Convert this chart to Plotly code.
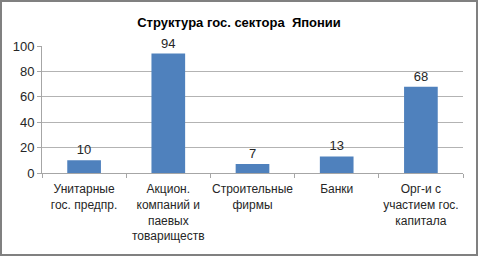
import plotly.graph_objects as go

categories = ["Унитарные<br>гос. предпр.", "Акцион.<br>компаний и<br>паевых<br>товариществ",
              "Строительные<br>фирмы", "Банки", "Орг-и с<br>участием гос.<br>капитала"]
values = [10, 94, 7, 13, 68]
title = "Структура гос. сектора  Японии"

W, H = 478, 256
L, R, T, B = 42, 15, 46, 83
pw, ph = W - L - R, H - T - B

fig = go.Figure(go.Bar(
    x=categories, y=values, marker_color="#4F81BD", marker_line_width=0,
    text=values, textposition="outside", cliponaxis=False,
    textfont=dict(size=13, color="#262626"), width=0.4,
))
fig.update_layout(
    width=W, height=H, margin=dict(l=L, r=R, t=T, b=B, autoexpand=False),
    paper_bgcolor="white", plot_bgcolor="white",
    font=dict(family="Liberation Sans, Arial, sans-serif", size=12, color="#262626"),
    title=dict(text="<b>" + title + "</b>", x=0.5, xanchor="center", y=1 - 22 / H,
               yanchor="middle", font=dict(size=13, color="black")),
    showlegend=False, bargap=0.6,
    xaxis=dict(showline=True, linecolor="#A6A6A6", linewidth=1, ticks="outside",
               tickson="boundaries", ticklen=4, tickcolor="#A6A6A6", showgrid=False,
               tickfont=dict(size=12), tickangle=0, automargin=False,
               ticklabelstandoff=5),
    yaxis=dict(range=[0, 100], tickvals=[0, 20, 40, 60, 80, 100], showline=True,
               linecolor="#A6A6A6", ticks="outside", ticklen=4, tickcolor="#A6A6A6",
               gridcolor="#B3B3B3", gridwidth=1, zeroline=False, tickfont=dict(size=13),
               automargin=False),
    shapes=[dict(type="rect", xref="paper", yref="paper",
                 x0=(-L + 1) / pw, x1=1 + (R - 1) / pw, y0=(-B + 1) / ph, y1=1 + (T - 1) / ph,
                 line=dict(color="#808080", width=2), layer="above")],
)
fig.write_html("out.html", config={"displayModeBar": False},
               post_script="document.body.style.margin='0';document.body.style.overflow='hidden';")
